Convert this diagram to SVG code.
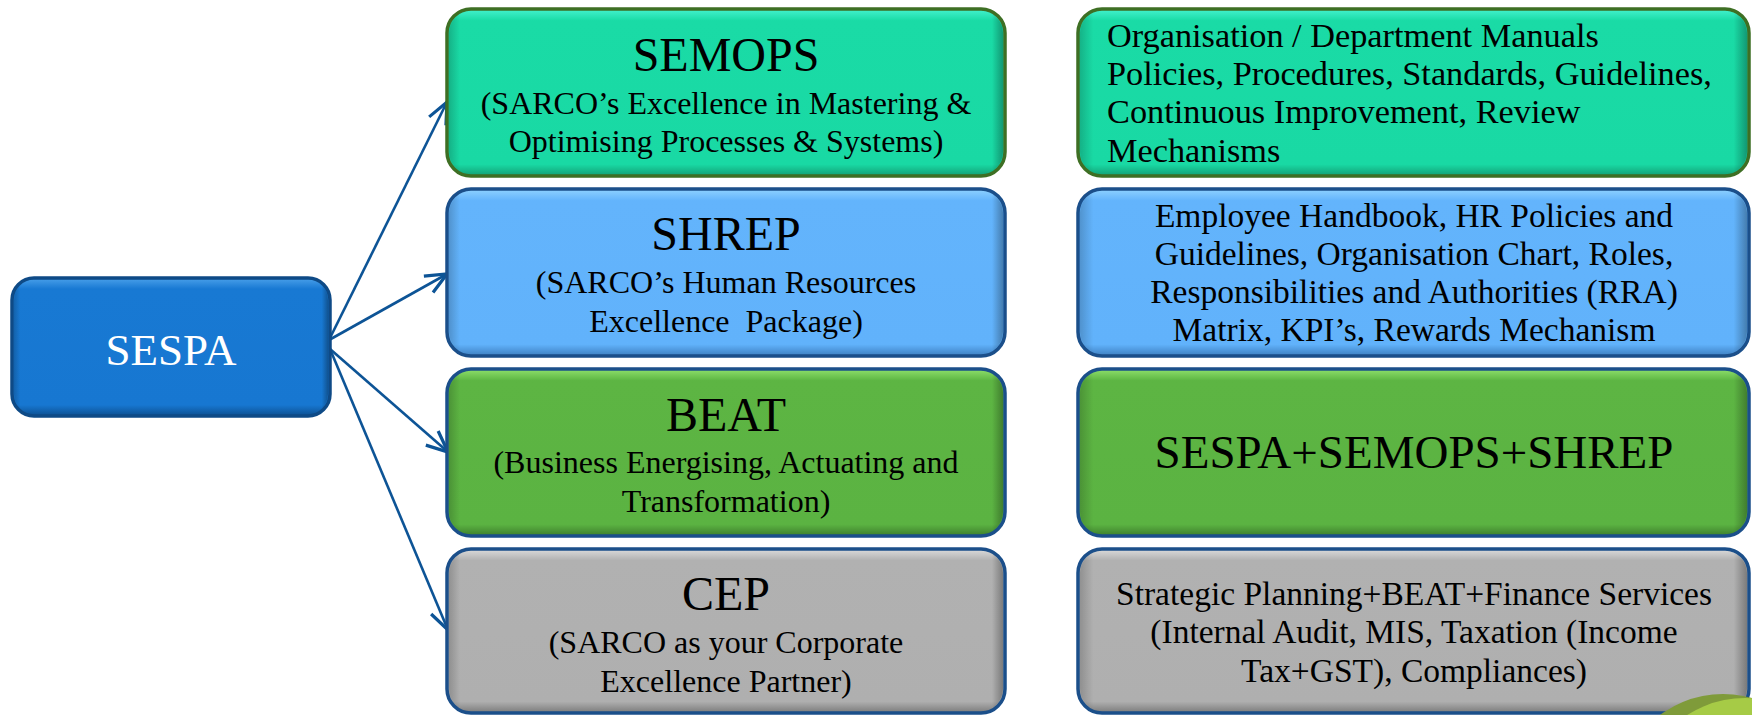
<svg xmlns="http://www.w3.org/2000/svg" width="1752" height="715" viewBox="0 0 1752 715">
<defs>
<style>
.t{font-family:"Liberation Serif","Times New Roman",serif;fill:#000;text-anchor:middle}
.ttl{font-size:48px}
.sub{font-size:32px}
.rt{font-size:33.5px}
.rl{font-size:34.3px;text-anchor:start}
.conn{stroke:#0d5496;stroke-width:2.6;fill:none;marker-end:url(#ah)}
.box{stroke-width:3.5}
.shade{fill:url(#sideShade)}
</style>
<marker id="ah" markerUnits="userSpaceOnUse" markerWidth="30" markerHeight="30" viewBox="-20 -12 24 24" refX="0" refY="0" orient="auto">
<path d="M-17,-7.5 L0,0 L-17,7.5" fill="none" stroke="#0d5496" stroke-width="2.6" stroke-linejoin="miter"/>
</marker>
<linearGradient id="gTeal" x1="0" y1="0" x2="0" y2="1">
<stop offset="0" stop-color="#44f2cf"/><stop offset="0.07" stop-color="#1adba6"/><stop offset="0.93" stop-color="#19d9a4"/><stop offset="1" stop-color="#139e74"/>
</linearGradient>
<linearGradient id="gBlue" x1="0" y1="0" x2="0" y2="1">
<stop offset="0" stop-color="#8fd2ff"/><stop offset="0.07" stop-color="#63b4fc"/><stop offset="0.93" stop-color="#61b2fb"/><stop offset="1" stop-color="#3d7fc0"/>
</linearGradient>
<linearGradient id="gGreen" x1="0" y1="0" x2="0" y2="1">
<stop offset="0" stop-color="#8fe06c"/><stop offset="0.07" stop-color="#5db543"/><stop offset="0.93" stop-color="#5bb342"/><stop offset="1" stop-color="#3d7e2c"/>
</linearGradient>
<linearGradient id="gGrey" x1="0" y1="0" x2="0" y2="1">
<stop offset="0" stop-color="#dcdcdc"/><stop offset="0.07" stop-color="#b1b1b1"/><stop offset="0.93" stop-color="#afafaf"/><stop offset="1" stop-color="#7a7a7a"/>
</linearGradient>
<linearGradient id="gSespa" x1="0" y1="0" x2="0" y2="1">
<stop offset="0" stop-color="#4aa0ea"/><stop offset="0.08" stop-color="#1879d3"/><stop offset="0.92" stop-color="#1777d1"/><stop offset="1" stop-color="#0c4f90"/>
</linearGradient>
<linearGradient id="sideShade" x1="0" y1="0" x2="1" y2="0">
<stop offset="0" stop-color="#000" stop-opacity="0.18"/><stop offset="0.02" stop-color="#000" stop-opacity="0"/><stop offset="0.98" stop-color="#000" stop-opacity="0"/><stop offset="1" stop-color="#000" stop-opacity="0.3"/>
</linearGradient>
</defs>
<rect width="1752" height="715" fill="#fff"/>

<g id="connectors">
<line class="conn" x1="329" y1="340" x2="447" y2="102"/>
<line class="conn" x1="329" y1="340" x2="447" y2="274"/>
<line class="conn" x1="330" y1="349" x2="448" y2="452"/>
<line class="conn" x1="330" y1="349" x2="448" y2="630"/>
</g>

<g id="sespa">
<rect class="box" x="12" y="278" width="318" height="138" rx="22" fill="url(#gSespa)" stroke="#0e4a86"/>
<rect x="14" y="280" width="314" height="134" rx="20" class="shade"/>
<text class="t" x="171" y="365" font-size="45" style="fill:#fff">SESPA</text>
</g>

<g id="semops">
<rect class="box" x="447" y="9" width="558" height="167" rx="24" fill="url(#gTeal)" stroke="#3e6f24"/>
<rect x="449" y="11" width="554" height="163" rx="22" class="shade"/>
<text class="t ttl" x="726" y="71">SEMOPS</text>
<text class="t sub" x="726" y="114">(SARCO’s Excellence in Mastering &amp;</text>
<text class="t sub" x="726" y="152">Optimising Processes &amp; Systems)</text>
</g>

<g id="shrep">
<rect class="box" x="447" y="189" width="558" height="167" rx="24" fill="url(#gBlue)" stroke="#1b4f8a"/>
<rect x="449" y="191" width="554" height="163" rx="22" class="shade"/>
<text class="t ttl" x="726" y="250">SHREP</text>
<text class="t sub" x="726" y="293">(SARCO’s Human Resources</text>
<text class="t sub" x="726" y="332" xml:space="preserve">Excellence  Package)</text>
</g>

<g id="beat">
<rect class="box" x="447" y="369" width="558" height="167" rx="24" fill="url(#gGreen)" stroke="#1b4f8a"/>
<rect x="449" y="371" width="554" height="163" rx="22" class="shade"/>
<text class="t ttl" x="726" y="431">BEAT</text>
<text class="t sub" x="726" y="473">(Business Energising, Actuating and</text>
<text class="t sub" x="726" y="512">Transformation)</text>
</g>

<g id="cep">
<rect class="box" x="447" y="549" width="558" height="164" rx="24" fill="url(#gGrey)" stroke="#1b4f8a"/>
<rect x="449" y="551" width="554" height="160" rx="22" class="shade"/>
<text class="t ttl" x="726" y="610">CEP</text>
<text class="t sub" x="726" y="653">(SARCO as your Corporate</text>
<text class="t sub" x="726" y="692">Excellence Partner)</text>
</g>

<g id="semops-detail">
<rect class="box" x="1078" y="9" width="671" height="167" rx="24" fill="url(#gTeal)" stroke="#3e6f24"/>
<rect x="1080" y="11" width="667" height="163" rx="22" class="shade"/>
<text class="t rl" x="1107" y="47">Organisation / Department Manuals</text>
<text class="t rl" x="1107" y="85">Policies, Procedures, Standards, Guidelines,</text>
<text class="t rl" x="1107" y="123">Continuous Improvement, Review</text>
<text class="t rl" x="1107" y="162">Mechanisms</text>
</g>

<g id="shrep-detail">
<rect class="box" x="1078" y="189" width="671" height="167" rx="24" fill="url(#gBlue)" stroke="#1b4f8a"/>
<rect x="1080" y="191" width="667" height="163" rx="22" class="shade"/>
<text class="t rt" x="1414" y="227">Employee Handbook, HR Policies and</text>
<text class="t rt" x="1414" y="265">Guidelines, Organisation Chart, Roles,</text>
<text class="t rt" x="1414" y="303">Responsibilities and Authorities (RRA)</text>
<text class="t rt" x="1414" y="341">Matrix, KPI’s, Rewards Mechanism</text>
</g>

<g id="beat-detail">
<rect class="box" x="1078" y="369" width="671" height="167" rx="24" fill="url(#gGreen)" stroke="#1b4f8a"/>
<rect x="1080" y="371" width="667" height="163" rx="22" class="shade"/>
<text class="t" x="1414" y="468" font-size="47">SESPA+SEMOPS+SHREP</text>
</g>

<g id="cep-detail">
<rect class="box" x="1078" y="549" width="671" height="164" rx="24" fill="url(#gGrey)" stroke="#1b4f8a"/>
<rect x="1080" y="551" width="667" height="160" rx="22" class="shade"/>
<text class="t rt" x="1414" y="605">Strategic Planning+BEAT+Finance Services</text>
<text class="t rt" x="1414" y="643">(Internal Audit, MIS, Taxation (Income</text>
<text class="t rt" x="1414" y="682">Tax+GST), Compliances)</text>
</g>

<g id="corner-blob">
<circle cx="1723" cy="799" r="105" fill="#7f9b3a"/>
<circle cx="1745" cy="805" r="107" fill="#a6cb46"/>
</g>
</svg>
